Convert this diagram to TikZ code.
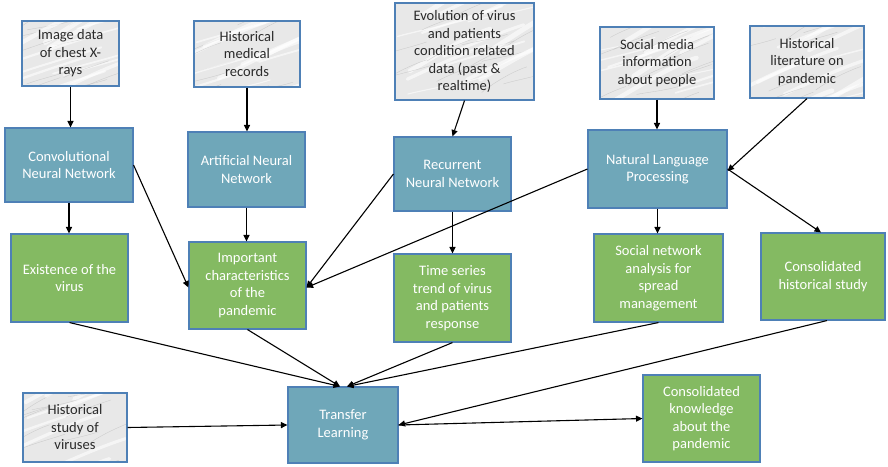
\documentclass[tikz,border=0pt]{standalone}
\usepackage{fontspec}
\setmainfont{Carlito}
\usetikzlibrary{arrows.meta,calc}

\definecolor{boxblue}{HTML}{6FA7B9}
\definecolor{boxgreen}{HTML}{84BA62}
\definecolor{edgeblue}{HTML}{4E80B6}
\definecolor{marblebase}{HTML}{E8E8E8}
\definecolor{darktext}{HTML}{2A2A2A}

\tikzset{
  basebox/.style={rectangle, draw=edgeblue, line width=1.1pt, align=center,
    inner sep=2pt, font=\fontsize{14.5}{17.5}\selectfont},
  bluebox/.style={basebox, fill=boxblue, text=white},
  greenbox/.style={basebox, fill=boxgreen, text=white},
  % light marble-like data source boxes
  marblebox/.style={basebox, fill=marblebase, text=darktext,
    path picture={
      \foreach \k in {1,...,14}{
        \pgfmathsetmacro\ua{rnd}\pgfmathsetmacro\ub{rnd}\pgfmathsetmacro\uc{rnd}
        \pgfmathsetmacro\lw{1+\uc*4}
        \draw[white, line width=\lw pt, opacity=0.6, line cap=round]
          ($(path picture bounding box.north west)!\ua!(path picture bounding box.north east)$)
          ++(-30,{\ub*110})
          .. controls +(25,{-6-\uc*10}) and +(-25,8) .. +(80,{-18-\uc*28});
        \pgfmathsetmacro\va{rnd}\pgfmathsetmacro\vb{rnd}\pgfmathsetmacro\vc{rnd}
        \draw[gray!60, line width=0.35pt, opacity=0.55, line cap=round]
          ($(path picture bounding box.north west)!\va!(path picture bounding box.north east)$)
          ++(-20,{\vb*110})
          .. controls +(12,{-2-\vc*8}) and +(-15,5) .. +(45,{-8-\vc*18});
      }}},
  link/.style={draw=black, line width=1.1pt,
    -{Triangle[length=6.5pt,width=6pt]}}
}

\begin{document}
\begin{tikzpicture}[x=1pt,y=-1pt]
\pgfmathsetseed{11}
\useasboundingbox (0,0) rectangle (888,466);

% data sources
\node[marblebox, minimum width=97, minimum height=65] (g1) at (70.5,53.5)
  {Image data\\of chest X-\\rays};
\node[marblebox, minimum width=106, minimum height=66] (g2) at (247,54)
  {Historical\\medical\\records};
\node[marblebox, minimum width=139, minimum height=97] (g3) at (464.5,51.5)
  {Evolution of virus\\and patients\\condition related\\data (past \&\\realtime)};
\node[marblebox, minimum width=114, minimum height=72] (g4) at (657,63)
  {Social media\\information\\about people};
\node[marblebox, minimum width=114, minimum height=72] (g5) at (807,62)
  {Historical\\literature on\\pandemic};
\node[marblebox, minimum width=104, minimum height=69] (g6) at (75,427.5)
  {Historical\\study of\\viruses};

% methods
\node[bluebox, minimum width=128, minimum height=74] (b1) at (69,165)
  {Convolutional\\Neural Network};
\node[bluebox, minimum width=117, minimum height=75] (b2) at (246.5,169.5)
  {Artificial Neural\\Network};
\node[bluebox, minimum width=117, minimum height=74] (b3) at (452.5,174)
  {Recurrent\\Neural Network};
\node[bluebox, minimum width=139, minimum height=78] (b4) at (657.5,169)
  {Natural Language\\Processing};
\node[bluebox, minimum width=110, minimum height=76] (tl) at (343,425)
  {Transfer\\Learning};

% outcomes
\node[greenbox, minimum width=117, minimum height=88] (e1) at (69.5,278)
  {Existence of the\\virus};
\node[greenbox, minimum width=117, minimum height=87] (e2) at (247.5,285.5)
  {Important\\characteristics\\of the\\pandemic};
\node[greenbox, minimum width=117, minimum height=88] (e3) at (452.5,298)
  {Time series\\trend of virus\\and patients\\response};
\node[greenbox, minimum width=129, minimum height=88] (e4) at (658.5,278)
  {Social network\\analysis for\\spread\\management};
\node[greenbox, minimum width=124, minimum height=87] (e5) at (823,276.5)
  {Consolidated\\historical study};
\node[greenbox, minimum width=117, minimum height=87] (e6) at (701.5,418.5)
  {Consolidated\\knowledge\\about the\\pandemic};

% data into methods
\draw[link] (g1.south) -- (g1.south |- b1.north);
\draw[link] (g2.south) -- (g2.south |- b2.north);
\draw[link] (g3.south) -- (b3.north);
\draw[link] (g4.south) -- (g4.south |- b4.north);
\draw[link] (g5.south) -- ([yshift=-2]b4.east);

% methods into outcomes
\draw[link] (b1.south) -- (b1.south |- e1.north);
\draw[link] (b1.east) -- ([yshift=-2]e2.west);
\draw[link] (b2.south) -- (b2.south |- e2.north);
\draw[link] (b3.west) -- ([yshift=-2]e2.east);
\draw[link] (b4.west) -- ([yshift=-2]e2.east);
\draw[link] (b3.south) -- (b3.south |- e3.north);
\draw[link] (b4.south) -- (b4.south |- e4.north);
\draw[link] (b4.east) -- ([xshift=-2]e5.north);

% outcomes into transfer learning
\draw[link] (e1.south) -- ([xshift=-3]tl.north);
\draw[link] (e2.south) -- ([xshift=-3]tl.north);
\draw[link] (e3.south) -- ([xshift=4]tl.north);
\draw[link] (e4.south) -- ([xshift=4]tl.north);
\draw[link] ([xshift=4]e5.south) -- (tl.east);
\draw[link] (g6.east) -- (tl.west);
\draw[link] (tl.east) -- (e6.west);
\end{tikzpicture}
\end{document}
